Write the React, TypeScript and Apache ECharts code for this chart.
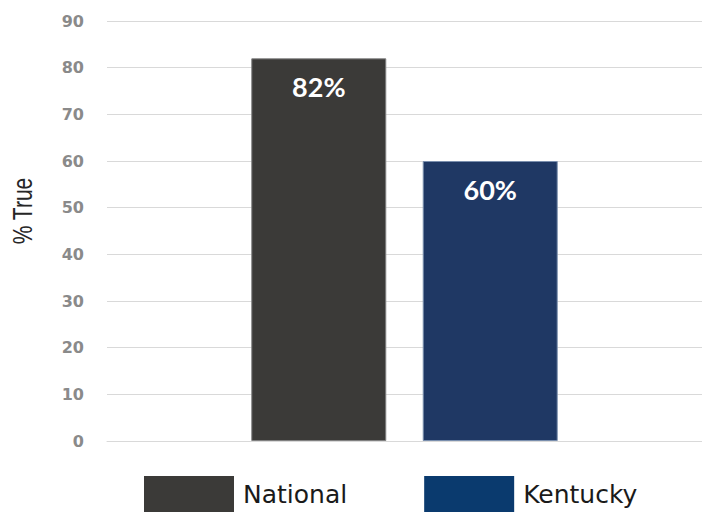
import React, { useEffect, useRef } from "react";
import * as echarts from "echarts";

const categories = [""];
const seriesNames = ["National", "Kentucky"];
const nationalValues = [82];
const kentuckyValues = [60];
const yTicks = { min: 0, max: 90, interval: 10 };

export default function App() {
  const ref = useRef<HTMLDivElement>(null);
  useEffect(() => {
    if (!ref.current) return;
    const chart = echarts.init(ref.current, undefined, { renderer: "svg" });
    const labelStyle = {
      show: true,
      position: "insideTop" as const,
      distance: 15,
      color: "#ffffff",
      fontSize: 27,
      fontWeight: "bold" as const,
      fontFamily: "Lato, 'DejaVu Sans', sans-serif",
      formatter: (p: any) => `${p.value}%`,
    };
    chart.setOption({
      animation: false,
      backgroundColor: "#ffffff",
      grid: { left: 107, right: -8, top: 21, bottom: 72, containLabel: false },
      legend: {
        left: 144,
        top: 476,
        padding: 0,
        itemWidth: 90,
        itemHeight: 36,
        itemGap: 77,
        icon: "rect",
        textStyle: {
          fontSize: 25,
          color: "#1a1a1a",
          fontFamily: "'DejaVu Sans', sans-serif",
          padding: [0, 0, 0, 4],
        },
        data: [
          { name: seriesNames[0], itemStyle: { color: "#3b3a38", borderWidth: 0 } },
          { name: seriesNames[1], itemStyle: { color: "#0a3a6e", borderWidth: 0 } },
        ],
      },
      xAxis: {
        type: "category",
        data: categories,
        axisLine: { show: true, lineStyle: { color: "#d9d9d9", width: 1 } },
        axisTick: { show: false },
        axisLabel: { show: false },
      },
      yAxis: {
        type: "value",
        min: yTicks.min,
        max: yTicks.max,
        interval: yTicks.interval,
        axisLine: { show: false },
        axisTick: { show: false },
        splitLine: { lineStyle: { color: "#d9d9d9", width: 1 } },
        axisLabel: {
          margin: 23,
          color: "#8a8a8a",
          fontSize: 16,
          fontWeight: "bold",
          fontFamily: "'DejaVu Sans', sans-serif",
        },
      },
      graphic: [
        {
          type: "text",
          x: 22,
          y: 211,
          rotation: Math.PI / 2,
          scaleY: 1.3,
          style: {
            text: "% True",
            fontSize: 21,
            fill: "#262626",
            fontFamily: "'Liberation Sans', Arial, sans-serif",
            align: "center",
            verticalAlign: "middle",
          },
        },
      ],
      series: [
        {
          name: seriesNames[0],
          type: "bar",
          data: nationalValues,
          barWidth: 135,
          barGap: "27%",
          itemStyle: { color: "#3b3a38", borderColor: "#808080", borderWidth: 1 },
          label: labelStyle,
        },
        {
          name: seriesNames[1],
          type: "bar",
          data: kentuckyValues,
          barWidth: 135,
          itemStyle: { color: "#1f3864", borderColor: "#7a8fae", borderWidth: 1 },
          label: labelStyle,
        },
      ],
    });
    return () => chart.dispose();
  }, []);
  return <div ref={ref} style={{ width: 702, height: 513, position: "fixed", left: 0, top: 0 }} />;
}
